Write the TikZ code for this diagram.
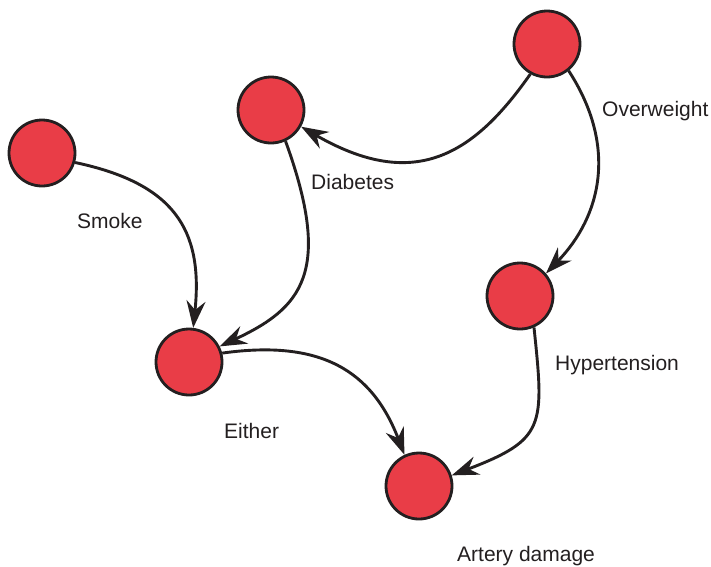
\documentclass[tikz,border=0pt]{standalone}
\usepackage{fontspec}
\setmainfont{Liberation Sans}
\usetikzlibrary{arrows.meta}
\definecolor{nodered}{RGB}{233,61,71}
\definecolor{ink}{RGB}{35,31,32}
\tikzset{
  var/.style={circle, draw=ink, fill=nodered, line width=2.8pt, minimum size=66pt, inner sep=0pt},
  lbl/.style={anchor=base west, inner sep=0pt, text=ink, font=\fontsize{21}{25}\selectfont},
  link/.style={draw=ink, line width=2.9pt, -{Stealth[length=27pt, width=19pt, inset=9pt]}}
}
\begin{document}
\begin{tikzpicture}[x=1pt, y=-1pt]
  \useasboundingbox (0,0) rectangle (711,566);

  % variables
  \node[var] (smoke)  at (42,153)  {};
  \node[var] (diab)   at (271,110) {};
  \node[var] (over)   at (547,44)  {};
  \node[var] (hyper)  at (520,296) {};
  \node[var] (either) at (189,362) {};
  \node[var] (artery) at (419,486) {};

  % labels
  \node[lbl] (lsmoke)  at (77,228)  {Smoke};
  \node[lbl] (ldiab)   at (311,189) {Diabetes};
  \node[lbl] (lover)   at (602,116) {Overweight};
  \node[lbl] (lhyper)  at (555,370) {Hypertension};
  \node[lbl] (leither) at (224,438) {Either};
  \node[lbl] (lartery) at (457,561) {Artery damage};

  % causal links
  \draw[link] (smoke.-16) .. controls +(-12:100pt) and +(84:100pt) .. (either.83);
  \draw[link] (diab.-65) .. controls +(-70:140pt) and +(25:90pt) .. (either.27);
  \draw[link] (over.-119) .. controls +(-125:100pt) and +(-30:130pt) .. (diab.-29);
  \draw[link] (over.-51) .. controls +(-57:90pt) and +(46:80pt) .. (hyper.41);
  \draw[link] (hyper.-66) .. controls +(-84:100pt) and +(21:100pt) .. (artery.18);
  \draw[link] (either.15) .. controls +(8:100pt) and +(111:90pt) .. (artery.115);
\end{tikzpicture}
\end{document}
